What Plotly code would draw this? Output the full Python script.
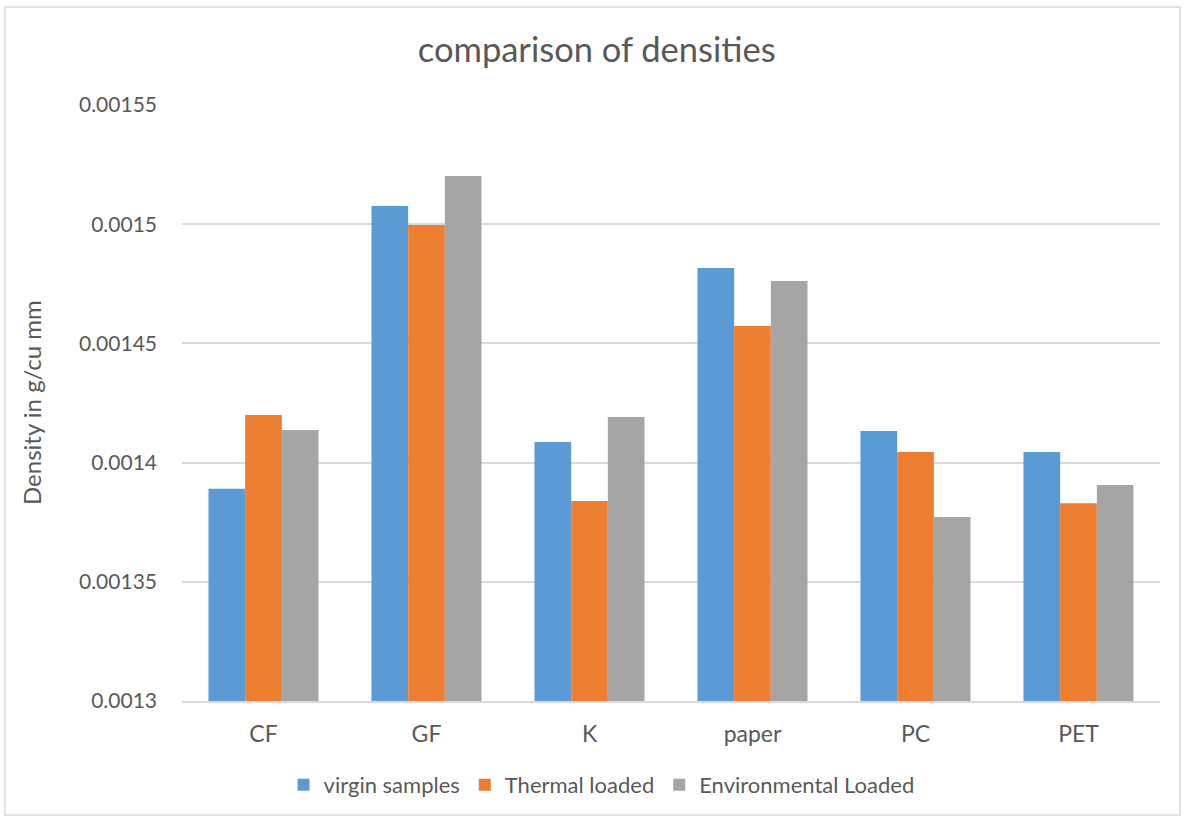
import plotly.graph_objects as go

categories = ["CF", "GF", "K", "paper", "PC", "PET"]
virgin = [0.001389, 0.0015076, 0.0014086, 0.0014816, 0.0014133, 0.0014044]
thermal = [0.00142, 0.0014997, 0.0013839, 0.0014573, 0.0014044, 0.001383]
environmental = [0.0014137, 0.0015202, 0.0014191, 0.0014762, 0.0013772, 0.0013906]
series_names = ["virgin samples", "Thermal loaded", "Environmental Loaded"]
tick_vals = [0.0013, 0.00135, 0.0014, 0.00145, 0.0015, 0.00155]
tick_text = ["0.0013", "0.00135", "0.0014", "0.00145", "0.0015", "0.00155"]

colors = ["#5B9BD5", "#ED7D31", "#A5A5A5"]
FONT = "Lato, Open Sans, sans-serif"
TXT = "#595959"

fig = go.Figure()
for name, vals, c in zip(series_names, [virgin, thermal, environmental], colors):
    fig.add_trace(go.Bar(x=categories, y=vals, name=name, marker=dict(color=c, line=dict(width=0))))

fig.update_layout(
    width=1184, height=819,
    paper_bgcolor="white", plot_bgcolor="white",
    barmode="group", bargap=0.325, bargroupgap=0,
    margin=dict(l=182, r=24, t=105, b=118),
    title=dict(text="comparison of densities", x=0.504, xanchor="center", y=0.939, yanchor="middle",
               font=dict(family=FONT, size=34.5, color=TXT)),
    font=dict(family=FONT, size=21, color=TXT),
    xaxis=dict(showgrid=False, showline=True, linecolor="#D9D9D9", linewidth=1.5,
               ticks="", ticklabelstandoff=12, tickfont=dict(size=23, color=TXT)),
    yaxis=dict(range=[0.0013, 0.00155], tickvals=tick_vals, ticktext=tick_text,
               showgrid=True, gridcolor="#D9D9D9", gridwidth=1.5, zeroline=False,
               showline=False, ticks="", ticklabelstandoff=24,
               tickfont=dict(size=21, color=TXT)),
    legend=dict(orientation="h", x=0.429, xanchor="center", y=-0.141, yanchor="middle",
                font=dict(size=22, color=TXT), traceorder="normal", itemwidth=30),
    showlegend=True,
)

fig.add_annotation(text="Density in g/cu mm", xref="paper", yref="paper", x=0, y=0.5,
                   xshift=-151, textangle=-90, showarrow=False, xanchor="center", yanchor="middle",
                   font=dict(family=FONT, size=24, color=TXT))

fig.add_shape(type="rect", xref="paper", yref="paper",
              x0=-0.181, x1=1.0204, y0=-0.1913, y1=1.1644,
              line=dict(color="#D9D9D9", width=1.5), fillcolor="rgba(0,0,0,0)", layer="below")

fig.write_html("out.html", config={"displayModeBar": False},
               post_script="document.body.style.margin='0';")
